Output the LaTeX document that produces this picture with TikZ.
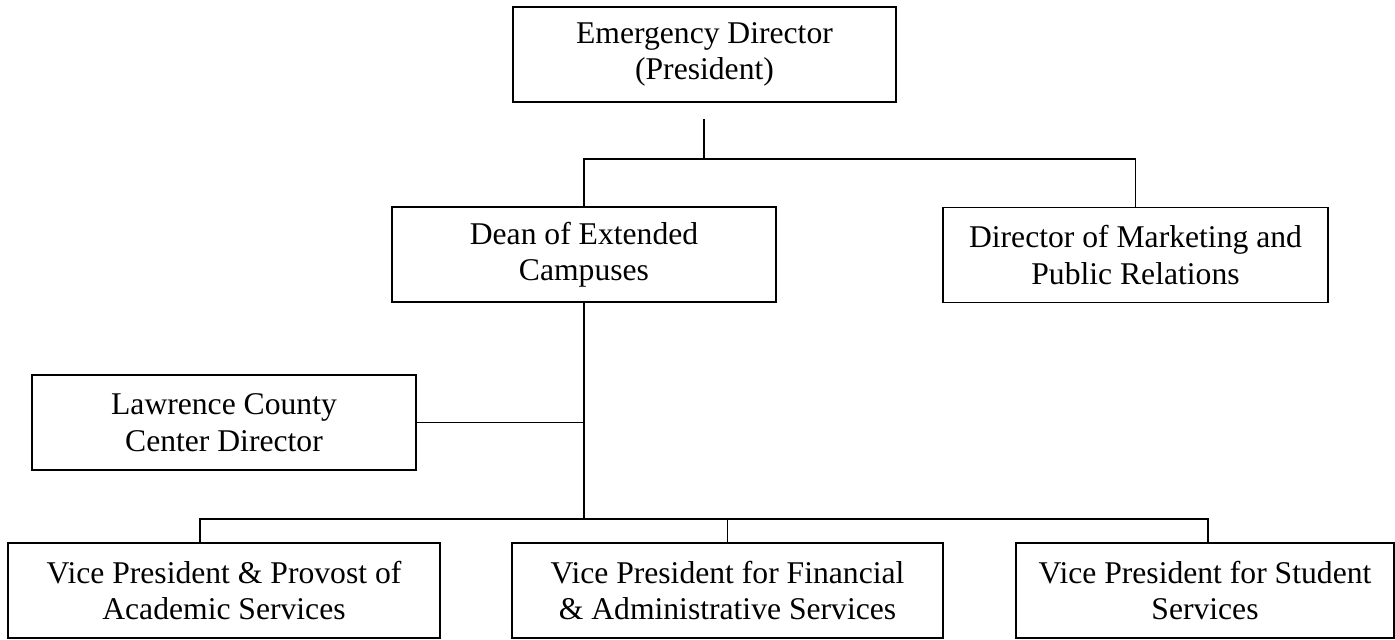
\documentclass[tikz,border=0pt]{standalone}
\usepackage{fontspec}
\setmainfont{Liberation Serif}
\usetikzlibrary{positioning}

\begin{document}
\begin{tikzpicture}[
        office/.style={draw=black, line width=1.1pt, align=center, minimum height=1.9cm,
                font=\fontsize{18}{20.7}\selectfont, inner sep=0pt},
        link/.style={black, line width=1.1pt}]
        \useasboundingbox (0,0) rectangle (27.9,-12.78);
        %\label{org_chart}
        \node[office, minimum width=7.66cm] (emerg) at (14.09,-1.09) {Emergency Director\\(President)};
        \node[office, minimum width=7.68cm] (dean) at (11.68,-5.09) {Dean of Extended\\Campuses};
        \node[office, minimum width=7.7cm] (market) at (22.71,-5.10) {Director of Marketing and\\Public Relations};
        \node[office, minimum width=7.68cm] (lawrence) at (4.48,-8.45) {Lawrence County\\Center Director};
        \node[office, minimum width=8.64cm] (vpacad) at (4.48,-11.81) {Vice President \& Provost of\\Academic Services};
        \node[office, minimum width=8.62cm] (vpfin) at (14.55,-11.81) {Vice President for Financial\\\& Administrative Services};
        \node[office, minimum width=7.56cm] (vpstud) at (24.10,-11.81) {Vice President for Student\\Services};
        \coordinate (stub) at (14.08,-2.38);
        \coordinate (topbus) at (14.08,-3.18);
        \coordinate (lowbus) at (11.68,-10.38);
        \draw[link] (stub) -- (topbus);
        \draw[link] (dean.north) |- (topbus) -| (market.north);
        \draw[link] (dean.south) -- (lowbus);
        \draw[link] (lawrence.east) -- (lawrence.east -| lowbus);
        \draw[link] ([xshift=-0.48cm]vpacad.north) |- (lowbus) -| ([xshift=0.06cm]vpstud.north);
        \draw[link] (vpfin.north) -- (vpfin.north |- lowbus);
\end{tikzpicture}
\end{document}
